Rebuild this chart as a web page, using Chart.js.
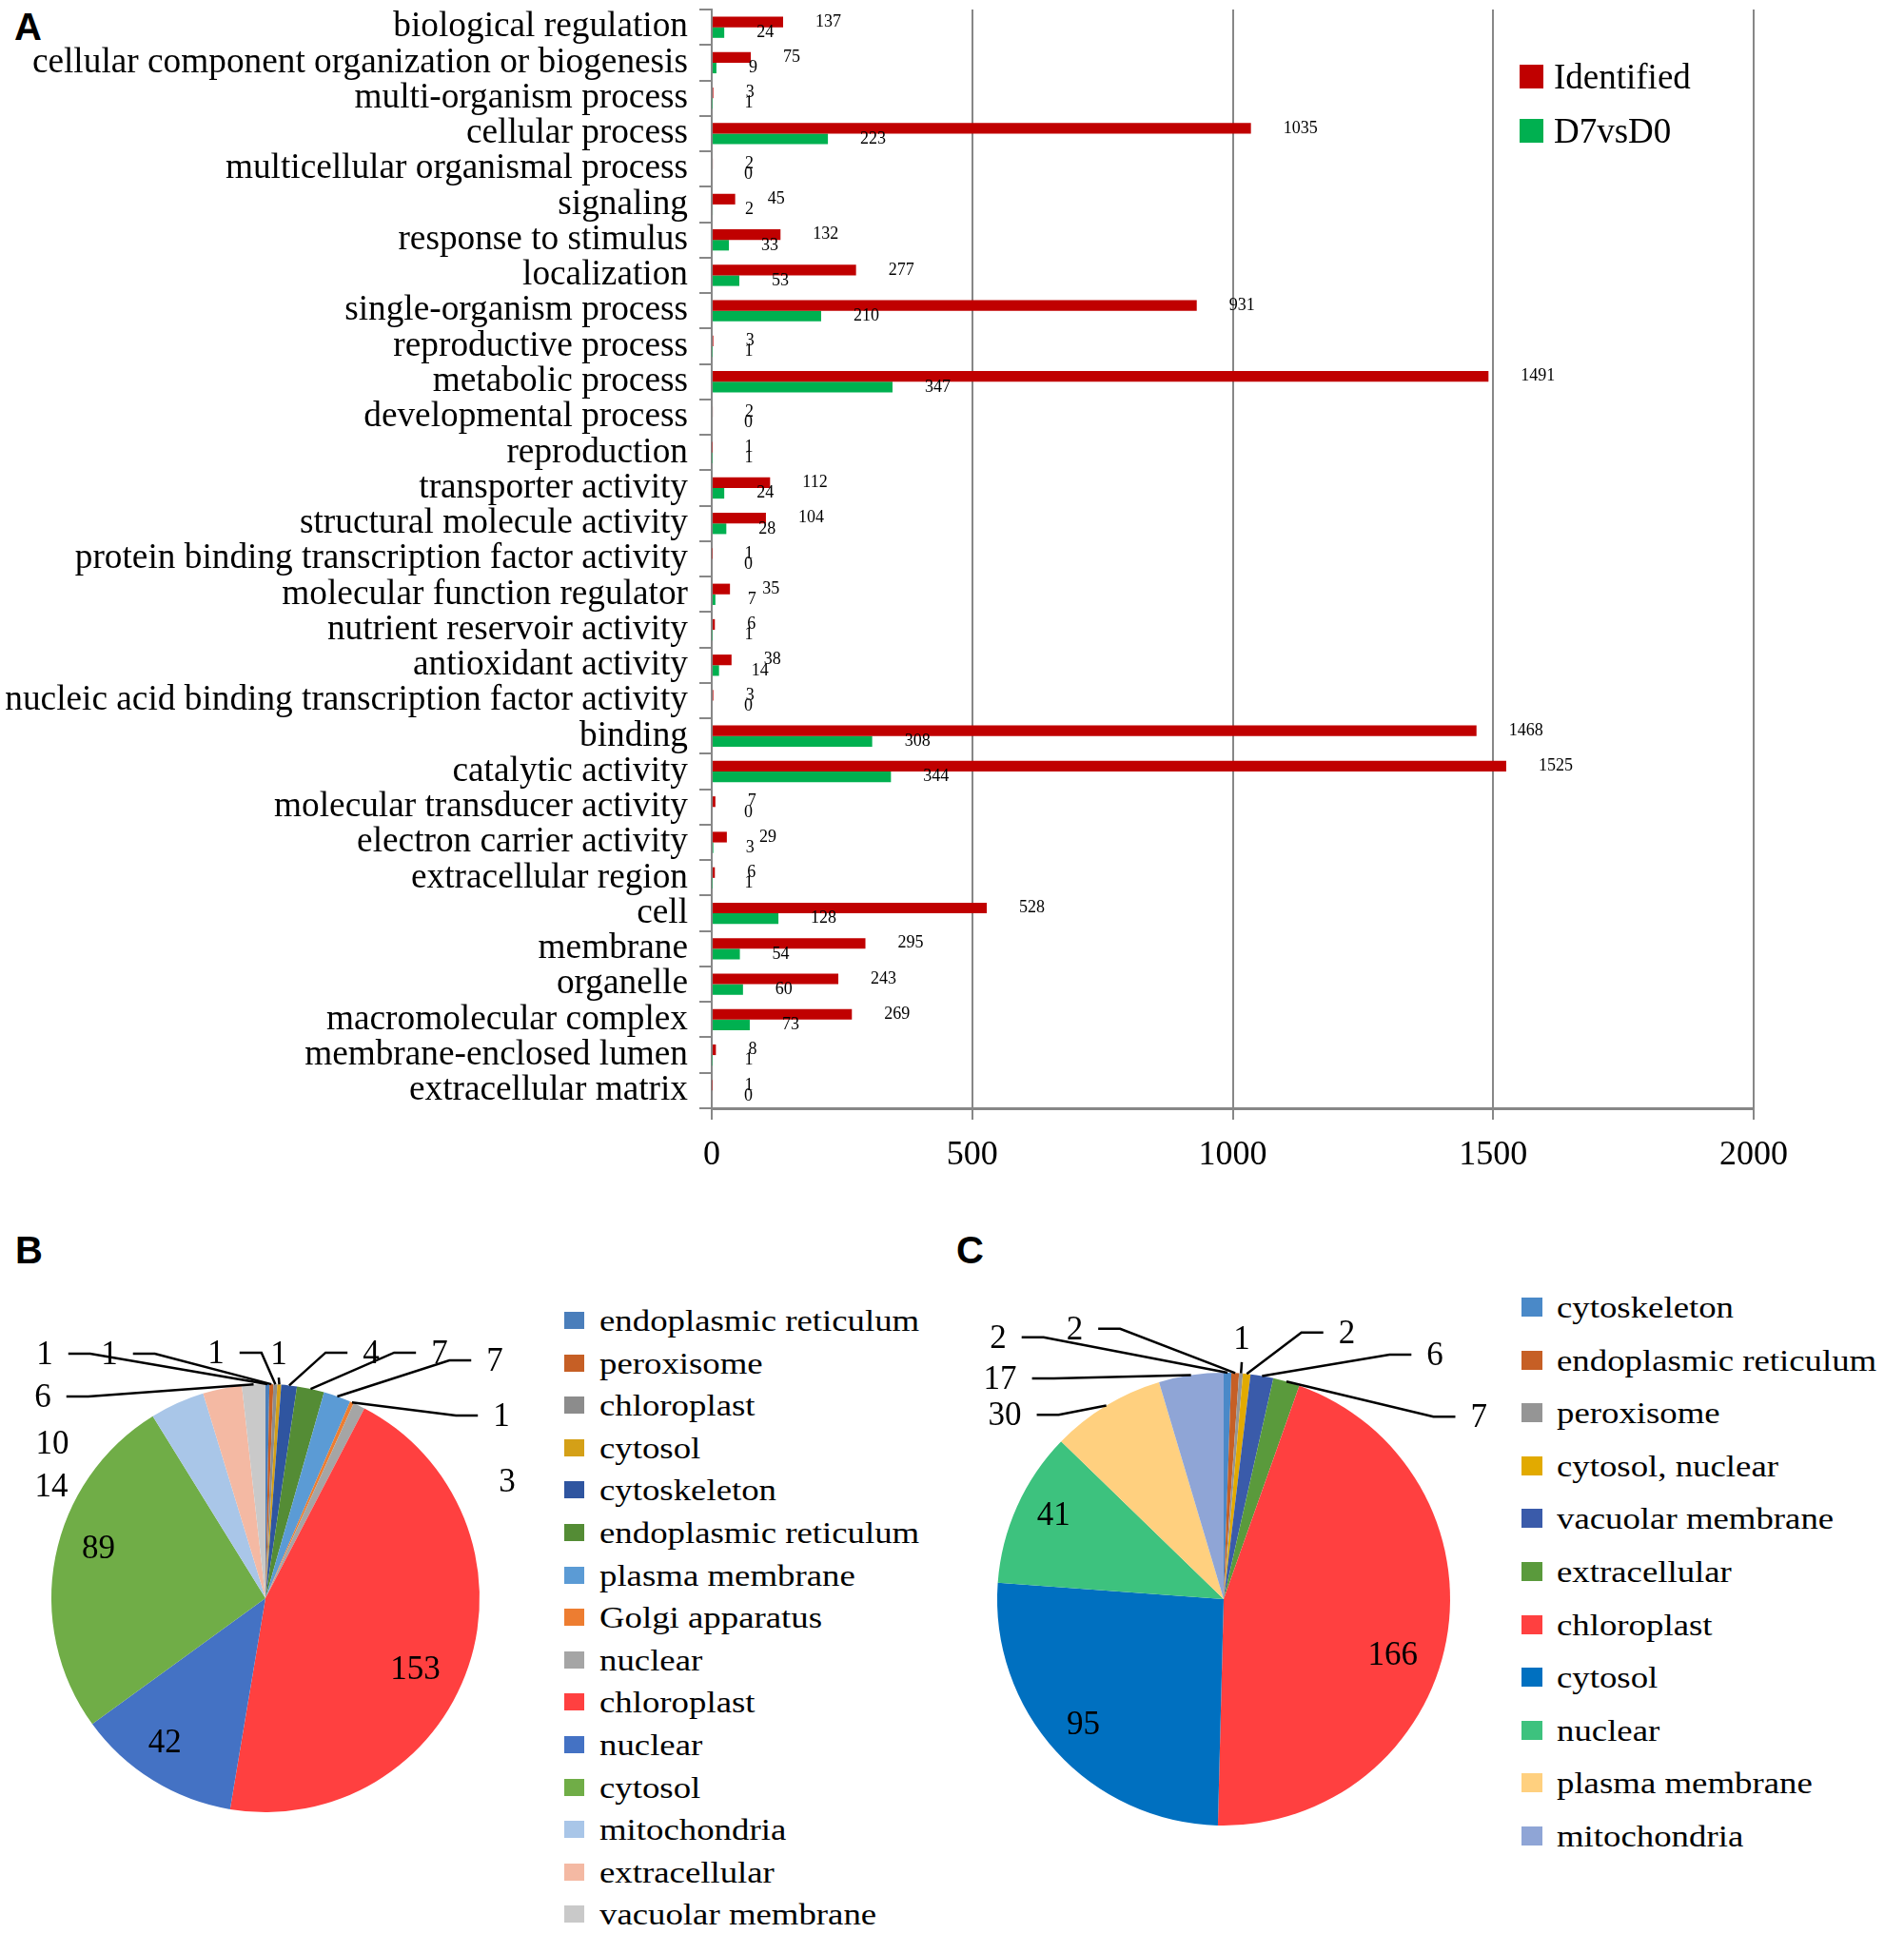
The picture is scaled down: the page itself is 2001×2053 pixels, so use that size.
<!DOCTYPE html>
<html>
<head>
<meta charset="utf-8">
<script src="https://cdn.jsdelivr.net/npm/chart.js@4.4.1/dist/chart.umd.min.js"></script>
<style>
	body { margin: 0; background: #fff; }
	#page { position: relative; width: 2001px; height: 2053px; overflow: hidden; background: #fff; color: #000; font-family: "Liberation Serif", "Times New Roman", serif; }
	canvas { position: absolute; }
	.panel-tag { position: absolute; font-family: "Liberation Sans", Arial, sans-serif; font-weight: bold; font-size: 40px; line-height: 1; }
	.legend-row { position: absolute; display: flex; align-items: center; white-space: nowrap; }
	.legend-row .swatch { display: inline-block; flex: none; }
	.legend-row .txt { display: inline-block; line-height: 1; transform-origin: left center; }
</style>
</head>
<body>
<div id="page">
	<div class="panel-tag" style="left:15px; top:8px;">A</div>
	<div class="panel-tag" style="left:16px; top:1294px;">B</div>
	<div class="panel-tag" style="left:1005px; top:1294px;">C</div>

	<canvas id="goChart" width="2001" height="1245" style="left:0; top:0;"></canvas>
	<div id="goLegend"></div>

	<canvas id="pieB" width="558" height="640" style="left:0; top:1360px;"></canvas>
	<div id="legendB"></div>

	<canvas id="pieC" width="572" height="640" style="left:1000px; top:1361px;"></canvas>
	<div id="legendC"></div>
</div>

<script>
	// ---- panel A: GO terms ----
	const goTerms = [
		"biological regulation", "cellular component organization or biogenesis", "multi-organism process",
		"cellular process", "multicellular organismal process", "signaling", "response to stimulus",
		"localization", "single-organism process", "reproductive process", "metabolic process",
		"developmental process", "reproduction", "transporter activity", "structural molecule activity",
		"protein binding transcription factor activity", "molecular function regulator",
		"nutrient reservoir activity", "antioxidant activity",
		"nucleic acid binding transcription factor activity", "binding", "catalytic activity",
		"molecular transducer activity", "electron carrier activity", "extracellular region", "cell",
		"membrane", "organelle", "macromolecular complex", "membrane-enclosed lumen", "extracellular matrix"
	];
	const identified = [137, 75, 3, 1035, 2, 45, 132, 277, 931, 3, 1491, 2, 1, 112, 104, 1, 35, 6, 38, 3, 1468, 1525, 7, 29, 6, 528, 295, 243, 269, 8, 1];
	const d7vsD0 = [24, 9, 1, 223, 0, 2, 33, 53, 210, 1, 347, 0, 1, 24, 28, 0, 7, 1, 14, 0, 308, 344, 0, 3, 1, 128, 54, 60, 73, 1, 0];
	const xTicks = [0, 500, 1000, 1500, 2000];

	// ---- panel B ----
	const locB = ["endoplasmic reticulum", "peroxisome", "chloroplast", "cytosol", "cytoskeleton",
		"endoplasmic reticulum", "plasma membrane", "Golgi apparatus", "nuclear", "chloroplast",
		"nuclear", "cytosol", "mitochondria", "extracellular", "vacuolar membrane"];
	const countB = [1, 1, 1, 1, 4, 7, 7, 1, 3, 153, 42, 89, 14, 10, 6];
	const colorsB = ["#4A7EBB", "#C65F25", "#8C8C8C", "#D4A017", "#2F55A0", "#548C35", "#5B9BD5", "#ED7D31",
		"#A5A5A5", "#FF4040", "#4472C4", "#70AD47", "#A9C6E8", "#F4B9A3", "#C9C9C9"];
	// label spot per slice: [dx, dy] in radii from centre, leader line 1/0
	const spotsB = [[-1.031, -1.142, 1], [-0.729, -1.142, 1], [-0.231, -1.147, 1], [0.062, -1.142, 1],
		[0.493, -1.147, 1], [0.813, -1.147, 1], [1.071, -1.111, 1], [1.102, -0.853, 1], [1.129, -0.547, 0],
		[0.70, 0.33, 0], [-0.47, 0.67, 0], [-0.78, -0.235, 0], [-1.0, -0.524, 0], [-0.996, -0.724, 0],
		[-1.04, -0.942, 1]];

	// ---- panel C ----
	const locC = ["cytoskeleton", "endoplasmic reticulum", "peroxisome", "cytosol, nuclear", "vacuolar membrane",
		"extracellular", "chloroplast", "cytosol", "nuclear", "plasma membrane", "mitochondria"];
	const countC = [2, 2, 1, 2, 6, 7, 166, 95, 41, 30, 17];
	const colorsC = ["#4A89C8", "#C65F25", "#959595", "#E2AA00", "#3A5BAA", "#5A9A3C", "#FF4040", "#0070C0",
		"#3DC27E", "#FFD07F", "#8FA5D6"];
	const spotsC = [[-0.996, -1.156, 1], [-0.658, -1.194, 1], [0.08, -1.152, 1], [0.544, -1.177, 1],
		[0.933, -1.08, 1], [1.127, -0.806, 1], [0.747, 0.245, 0], [-0.62, 0.549, 0], [-0.751, -0.376, 0],
		[-0.966, -0.814, 1], [-0.987, -0.975, 1]];

	const SERIF = '"Liberation Serif", "Times New Roman", serif';
	const AXIS_GREY = '#878787';

	// value text right of every bar end
	const barValueLabels = {
		id: 'barValueLabels',
		afterDatasetsDraw(chart) {
			const ctx = chart.ctx;
			ctx.save();
			ctx.font = '18px ' + SERIF;
			ctx.fillStyle = '#000';
			ctx.textAlign = 'left';
			ctx.textBaseline = 'middle';
			chart.data.datasets.forEach((ds, d) => {
				chart.getDatasetMeta(d).data.forEach((bar, i) => {
					ctx.fillText(String(ds.data[i]), bar.x + 34, bar.y);
				});
			});
			ctx.restore();
		}
	};

	const goChart = new Chart(document.getElementById('goChart'), {
		type: 'bar',
		data: {
			labels: goTerms,
			datasets: [
				{ label: 'Identified', data: identified, backgroundColor: '#C00000', categoryPercentage: 0.6, barPercentage: 1 },
				{ label: 'D7vsD0', data: d7vsD0, backgroundColor: '#00B050', categoryPercentage: 0.6, barPercentage: 1 }
			]
		},
		options: {
			indexAxis: 'y',
			responsive: false,
			animation: false,
			layout: { padding: { top: 10, right: 158, left: 0, bottom: 0 } },
			plugins: { legend: { display: false }, tooltip: { enabled: false } },
			scales: {
				x: {
					min: 0, max: 2000,
					afterBuildTicks: (s) => { s.ticks = xTicks.map(v => ({ value: v })); },
					ticks: { font: { family: SERIF, size: 36 }, color: '#000', padding: 16, callback: (v) => String(v) },
					grid: { color: AXIS_GREY, lineWidth: 2, tickLength: 12 },
					border: { color: AXIS_GREY, width: 3 },
					afterFit: (s) => { s.height = 80; }
				},
				y: {
					ticks: { font: { family: SERIF, size: 37.3 }, color: '#000', padding: 12, autoSkip: false },
					grid: { drawOnChartArea: false, color: AXIS_GREY, lineWidth: 2, tickLength: 13, offset: true },
					border: { color: AXIS_GREY, width: 2 },
					afterFit: (s) => { s.width = 748; s.paddingTop = 0; s.paddingBottom = 0; }
				}
			}
		},
		plugins: [barValueLabels]
	});

	function legendRow(parent, left, cy, rowH, color, sw, sh, gap, text, fontSize, stretch) {
		const row = document.createElement('div');
		row.className = 'legend-row';
		row.style.left = left + 'px';
		row.style.top = (cy - rowH / 2) + 'px';
		row.style.height = rowH + 'px';
		row.innerHTML = `
			<span class="swatch" style="width:${sw}px; height:${sh}px; background:${color}; margin-right:${gap}px;"></span>
			<span class="txt" style="font-size:${fontSize}px; transform: scaleX(${stretch});">${text}</span>`;
		parent.appendChild(row);
	}

	// legend of panel A, inside the plot
	const goLegend = document.getElementById('goLegend');
	goChart.data.datasets.forEach((ds, i) => {
		legendRow(goLegend, 1597, 80 + i * 57, 50, ds.backgroundColor, 25, 25, 11, ds.label, 37, 1);
	});

	// number labels + leader lines for the pies
	const pieLabels = {
		id: 'pieLabels',
		afterDatasetsDraw(chart, args, opts) {
			const ctx = chart.ctx;
			const meta = chart.getDatasetMeta(0);
			const values = chart.data.datasets[0].data;
			ctx.save();
			ctx.font = opts.size + 'px ' + SERIF;
			ctx.fillStyle = '#000';
			ctx.strokeStyle = '#000';
			ctx.lineWidth = 2.5;
			ctx.textAlign = 'center';
			ctx.textBaseline = 'middle';
			meta.data.forEach((arc, i) => {
				const p = arc.getProps(['x', 'y', 'startAngle', 'endAngle', 'outerRadius'], true);
				const R = p.outerRadius;
				const spot = opts.spots[i];
				const lx = p.x + spot[0] * R;
				const ly = p.y + spot[1] * R;
				const text = String(values[i]);
				const half = ctx.measureText(text).width / 2;
				if (spot[2]) {
					const mid = (p.startAngle + p.endAngle) / 2;
					const ex = p.x + Math.cos(mid) * R;
					const ey = p.y + Math.sin(mid) * R;
					ctx.beginPath();
					if (Math.abs(ex - lx) < half + 8) {
						ctx.moveTo(lx, ly + 25);
						ctx.lineTo(ex, ey);
					} else {
						const dir = ex > lx ? 1 : -1;
						const sx = lx + dir * (half + 16);
						ctx.moveTo(sx, ly);
						ctx.lineTo(sx + dir * 23, ly);
						ctx.lineTo(ex, ey);
					}
					ctx.stroke();
				}
				ctx.fillText(text, lx, ly + 2);
			});
			ctx.restore();
		}
	};

	function makePie(id, labels, values, colors, radius, spots) {
		return new Chart(document.getElementById(id), {
			type: 'pie',
			data: { labels: labels, datasets: [{ data: values, backgroundColor: colors, borderWidth: 0 }] },
			options: {
				responsive: false,
				animation: false,
				radius: radius,
				layout: { padding: 0 },
				plugins: {
					legend: { display: false },
					tooltip: { enabled: false },
					pieLabels: { spots: spots, size: 35 }
				}
			},
			plugins: [pieLabels]
		});
	}

	const pieB = makePie('pieB', locB, countB, colorsB, 225, spotsB);
	const pieC = makePie('pieC', locC, countC, colorsC, 238, spotsC);

	const legendB = document.getElementById('legendB');
	pieB.data.labels.forEach((lab, i) => {
		legendRow(legendB, 593, 1388 + i * 44.6, 44, pieB.data.datasets[0].backgroundColor[i], 21, 18, 16, lab, 32, 1.15);
	});
	const legendC = document.getElementById('legendC');
	pieC.data.labels.forEach((lab, i) => {
		legendRow(legendC, 1599, 1374 + i * 55.6, 50, pieC.data.datasets[0].backgroundColor[i], 22, 20, 15, lab, 32, 1.15);
	});
</script>
</body>
</html>
